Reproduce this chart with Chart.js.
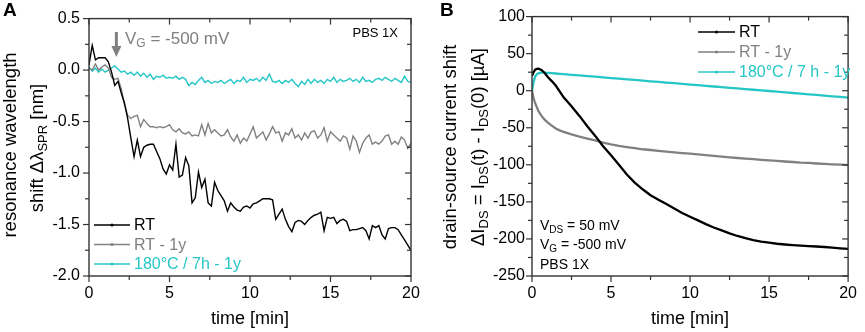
<!DOCTYPE html>
<html>
<head>
<meta charset="utf-8">
<script src="https://cdn.jsdelivr.net/npm/chart.js@4.4.0/dist/chart.umd.min.js"></script>
<style>
  html, body { margin: 0; padding: 0; background: #fff; }
  #wrap { position: relative; width: 865px; height: 332px; }
  canvas { position: absolute; top: 0; }
</style>
</head>
<body>
<div id="wrap">
  <canvas id="chartA" width="432" height="332" style="left:0"></canvas>
  <canvas id="chartB" width="433" height="332" style="left:432px"></canvas>
</div>
<script>
// ---- panel A: SPR resonance wavelength shift [nm] ----
const timeA = [
  0, 0.2, 0.4, 0.6, 0.8, 1, 1.2, 1.4, 1.6, 1.8,
  2, 2.2, 2.4, 2.6, 2.8, 3, 3.2, 3.4, 3.6, 3.8,
  4, 4.2, 4.4, 4.6, 4.8, 5, 5.2, 5.4, 5.6, 5.8,
  6, 6.2, 6.4, 6.6, 6.8, 7, 7.2, 7.4, 7.6, 7.8,
  8, 8.2, 8.4, 8.6, 8.8, 9, 9.2, 9.4, 9.6, 9.8,
  10, 10.2, 10.4, 10.6, 10.8, 11, 11.2, 11.4, 11.6, 11.8,
  12, 12.2, 12.4, 12.6, 12.8, 13, 13.2, 13.4, 13.6, 13.8,
  14, 14.2, 14.4, 14.6, 14.8, 15, 15.2, 15.4, 15.6, 15.8,
  16, 16.2, 16.4, 16.6, 16.8, 17, 17.2, 17.4, 17.6, 17.8,
  18, 18.2, 18.4, 18.6, 18.8, 19, 19.2, 19.4, 19.6, 19.8,
  20
];
const rtA = [
  0.05, 0.24, 0.10, 0.12, 0.12, 0.12, 0.08, -0.02, -0.15, -0.11,
  -0.22, -0.32, -0.47, -0.66, -0.84, -0.68, -0.84, -0.75, -0.73, -0.72,
  -0.72, -0.79, -0.86, -0.96, -1.01, -0.92, -0.97, -0.72, -1.04, -1.02,
  -0.85, -0.93, -1.29, -1.24, -0.99, -1.14, -1.06, -1.29, -1.32, -1.09,
  -1.17, -1.22, -1.27, -1.37, -1.29, -1.33, -1.36, -1.37, -1.33, -1.32,
  -1.34, -1.30, -1.29, -1.27, -1.25, -1.25, -1.25, -1.26, -1.45, -1.40,
  -1.35, -1.45, -1.52, -1.57, -1.48, -1.46, -1.47, -1.50, -1.46, -1.43,
  -1.41, -1.40, -1.38, -1.56, -1.43, -1.44, -1.43, -1.49, -1.46, -1.45,
  -1.47, -1.56, -1.55, -1.55, -1.54, -1.53, -1.56, -1.64, -1.51, -1.53,
  -1.51, -1.60, -1.64, -1.54, -1.53, -1.53, -1.55, -1.60, -1.65, -1.70,
  -1.75
];
const rtOldA = [
  0.02, 0.00, 0.06, 0.00, 0.03, 0.05, 0.02, -0.07, -0.09, -0.08,
  -0.18, -0.33, -0.44, -0.47, -0.45, -0.44, -0.55, -0.48, -0.52, -0.55,
  -0.55, -0.56, -0.55, -0.56, -0.55, -0.53, -0.58, -0.60, -0.57, -0.61,
  -0.62, -0.60, -0.64, -0.63, -0.64, -0.53, -0.63, -0.52, -0.61, -0.58,
  -0.61, -0.64, -0.63, -0.58, -0.65, -0.69, -0.63, -0.71, -0.66, -0.69,
  -0.62, -0.55, -0.66, -0.63, -0.60, -0.68, -0.62, -0.55, -0.61, -0.60,
  -0.69, -0.61, -0.63, -0.57, -0.66, -0.63, -0.68, -0.61, -0.66, -0.60,
  -0.59, -0.66, -0.63, -0.56, -0.69, -0.60, -0.63, -0.66, -0.69, -0.64,
  -0.66, -0.77, -0.64, -0.69, -0.80, -0.71, -0.66, -0.63, -0.72, -0.70,
  -0.72, -0.69, -0.64, -0.63, -0.72, -0.69, -0.72, -0.65, -0.68, -0.76,
  -0.71
];
const annealedA = [
  0.03, -0.01, 0.02, -0.02, 0.01, -0.02, 0.00, 0.02, 0.04, 0.01,
  -0.02, -0.01, -0.04, -0.02, -0.05, -0.02, -0.06, -0.03, -0.07, -0.04,
  -0.09, -0.06, -0.07, -0.05, -0.08, -0.07, -0.08, -0.06, -0.09, -0.07,
  -0.09, -0.15, -0.12, -0.14, -0.10, -0.07, -0.12, -0.10, -0.13, -0.11,
  -0.12, -0.10, -0.13, -0.11, -0.09, -0.13, -0.10, -0.11, -0.07, -0.12,
  -0.09, -0.10, -0.08, -0.11, -0.07, -0.10, -0.04, -0.11, -0.12, -0.10,
  -0.13, -0.10, -0.12, -0.09, -0.13, -0.16, -0.11, -0.14, -0.09, -0.13,
  -0.09, -0.12, -0.10, -0.13, -0.09, -0.11, -0.07, -0.12, -0.09, -0.11,
  -0.10, -0.08, -0.11, -0.09, -0.12, -0.07, -0.11, -0.10, -0.12, -0.09,
  -0.08, -0.10, -0.07, -0.09, -0.11, -0.08, -0.10, -0.12, -0.06, -0.11,
  -0.12
];

// ---- panel B: drain-source current shift [uA] ----
const timeB = [
  0, 0.1, 0.2, 0.3, 0.4, 0.6, 0.8, 1, 1.25, 1.5, 1.75,
  2, 2.5, 3, 3.5, 4, 4.5, 5, 5.5, 6, 6.5, 7, 7.5, 8, 8.5, 9, 9.5,
  10, 10.5, 11, 11.5, 12, 12.5, 13, 13.5, 14, 14.5, 15, 15.5, 16, 16.5,
  17, 17.5, 18, 18.5, 19, 19.5, 20
];
const rtB = [
  20, 25, 28.5, 29.5, 29.6, 28, 24, 18.5, 13, 7, -1,
  -9, -21, -34, -48, -61, -75, -87, -100, -113, -124, -133, -141, -147, -153, -159, -165,
  -170, -175, -180, -184.5, -188.5, -192.5, -196, -199, -201.5, -203.5, -205, -206.5, -207.5, -208.3,
  -209, -209.6, -210.2, -210.9, -211.7, -212.6, -213.5
];
const rtOldB = [
  0, -10, -17, -22, -27, -34, -39, -43, -47, -51, -53.5,
  -55.5, -59, -62, -64.5, -67, -70, -72.5, -74.5, -76, -77.5, -79, -80, -81.2, -82.3, -83.3, -84.2,
  -85, -86, -87, -88, -89, -90, -90.8, -91.6, -92.4, -93.2, -94, -94.8, -95.5, -96.2,
  -97, -97.5, -98.2, -98.8, -99.3, -99.8, -100.3
];
const annealedB = [
  0, 12, 19, 22, 23.5, 24.8, 24.5, 24.1, 23.7, 23.2, 22.8,
  22.4, 21.5, 20.6, 19.8, 18.9, 18, 17.1, 16.2, 15.4, 14.5, 13.6, 12.7, 11.8, 11, 10.1, 9.2,
  8.3, 7.5, 6.6, 5.7, 4.8, 3.9, 3.1, 2.2, 1.3, 0.4, -0.4, -1.3, -2.2, -3.1,
  -4, -4.8, -5.7, -6.6, -7.5, -8.3, -9.2
];

const BLACK = '#000000';
const GREY = '#808080';
const CYAN = '#26c6c6';
const FONT = '"Liberation Sans", Arial, sans-serif';

function pts(times, values) {
  return times.map((t, i) => ({ x: t, y: values[i] }));
}

function partsWidth(ctx, parts, size) {
  const sub = Math.round(size * 0.68);
  return parts.map(([t, s]) => {
    ctx.font = `${s ? sub : size}px ${FONT}`;
    return ctx.measureText(t).width;
  });
}

// text with subscripts: parts = [[text, isSub], ...]
function richText(ctx, parts, x, y, size, align) {
  const sub = Math.round(size * 0.68);
  const widths = partsWidth(ctx, parts, size);
  const total = widths.reduce((s, w) => s + w, 0);
  let cx = align === 'center' ? x - total / 2 : align === 'right' ? x - total : x;
  ctx.textAlign = 'left';
  ctx.textBaseline = 'middle';
  parts.forEach(([t, s], i) => {
    ctx.font = `${s ? sub : size}px ${FONT}`;
    ctx.fillText(t, cx, s ? y + size * 0.3 : y);
    cx += widths[i];
  });
}

// box frame with outward ticks (left/bottom) and inward mirror ticks (top/right)
const frameTicks = {
  id: 'frameTicks',
  afterDatasetsDraw(chart, args, opts) {
    const { ctx, chartArea: a, scales: { x, y } } = chart;
    ctx.save();
    ctx.strokeStyle = '#333';
    ctx.lineWidth = 1.4;
    ctx.strokeRect(a.left, a.top, a.right - a.left, a.bottom - a.top);
    ctx.lineWidth = 1.2;
    const line = (x1, y1, x2, y2) => {
      ctx.beginPath(); ctx.moveTo(x1, y1); ctx.lineTo(x2, y2); ctx.stroke();
    };
    const half = opts.xStep / 2;
    for (let i = 0, v = x.min; v <= x.max + 1e-9; i++, v = x.min + i * half) {
      const px = x.getPixelForValue(v);
      const len = i % 2 === 0 ? 6 : 4;
      line(px, a.bottom, px, a.bottom + len);
      line(px, a.top, px, a.top + len);
    }
    const halfY = opts.yStep / 2;
    for (let i = 0, v = y.min; v <= y.max + 1e-9; i++, v = y.min + i * halfY) {
      const py = y.getPixelForValue(v);
      const len = i % 2 === 0 ? 6 : 4;
      line(a.left - len, py, a.left, py);
      line(a.right - len, py, a.right, py);
    }
    ctx.restore();
  }
};

// titles, legend and notes
const notes = {
  id: 'notes',
  afterDraw(chart, args, opts) {
    const { ctx, chartArea: a } = chart;
    ctx.save();
    // panel letter
    ctx.fillStyle = '#000';
    ctx.font = `bold 19px ${FONT}`;
    ctx.textAlign = 'left';
    ctx.textBaseline = 'middle';
    ctx.fillText(opts.letter, opts.letterX, 11);
    // x title
    ctx.font = `18px ${FONT}`;
    ctx.textAlign = 'center';
    ctx.fillText('time [min]', (a.left + a.right) / 2, 319);
    // rotated y title, each line fitted to its length in the reference
    opts.yTitle.forEach((ln) => {
      const w = partsWidth(ctx, ln.parts, 18).reduce((s, v) => s + v, 0);
      const size = Math.min(18.5, 18 * ln.len / w);
      ctx.save();
      ctx.translate(ln.x, ln.cy);
      ctx.rotate(-Math.PI / 2);
      richText(ctx, ln.parts, 0, 0, size, 'center');
      ctx.restore();
    });
    // legend
    const L = opts.legend;
    chart.data.datasets.forEach((ds, i) => {
      const ly = L.y + i * L.gap;
      ctx.strokeStyle = ds.borderColor;
      ctx.lineWidth = 1.6;
      ctx.beginPath(); ctx.moveTo(L.x0, ly); ctx.lineTo(L.x1, ly); ctx.stroke();
      ctx.fillStyle = ds.borderColor;
      ctx.beginPath(); ctx.arc((L.x0 + L.x1) / 2, ly, 1.5, 0, Math.PI * 2); ctx.fill();
      ctx.font = `16px ${FONT}`;
      ctx.textAlign = 'left';
      ctx.textBaseline = 'middle';
      ctx.fillText(ds.label, L.x1 + 4, ly + 1);
    });
    // free notes
    opts.texts.forEach(tx => {
      ctx.fillStyle = tx.color;
      richText(ctx, tx.parts, tx.x, tx.y, tx.size, tx.align || 'left');
    });
    if (opts.arrow) {
      const ax = chart.scales.x.getPixelForValue(opts.arrow.t);
      ctx.strokeStyle = GREY;
      ctx.fillStyle = GREY;
      ctx.lineWidth = 3;
      ctx.beginPath(); ctx.moveTo(ax, 32); ctx.lineTo(ax, 47); ctx.stroke();
      ctx.beginPath(); ctx.moveTo(ax - 5, 46); ctx.lineTo(ax + 5, 46); ctx.lineTo(ax, 57); ctx.closePath(); ctx.fill();
    }
    ctx.restore();
  }
};

function makeChart(id, cfg) {
  return new Chart(document.getElementById(id), {
    type: 'line',
    data: { datasets: cfg.datasets },
    options: {
      responsive: false,
      animation: false,
      events: [],
      layout: { padding: { top: 16, right: cfg.padRight, left: 0, bottom: 0 } },
      elements: { point: { radius: 0 }, line: { tension: 0 } },
      scales: {
        x: {
          type: 'linear', min: 0, max: 20,
          grid: { display: false, drawTicks: false }, border: { display: false },
          ticks: { stepSize: 5, padding: 8, color: '#000', font: { family: FONT, size: 16 } },
          afterFit: s => { s.height = 56; }
        },
        y: {
          type: 'linear', min: cfg.yMin, max: cfg.yMax,
          grid: { display: false, drawTicks: false }, border: { display: false },
          ticks: {
            stepSize: cfg.yStep, padding: cfg.yPad, color: '#000', font: { family: FONT, size: 16 },
            callback: cfg.yFormat
          },
          afterFit: s => { s.width = cfg.yWidth; }
        }
      },
      plugins: {
        legend: { display: false },
        tooltip: { enabled: false },
        frameTicks: { xStep: 5, yStep: cfg.yStep },
        notes: cfg.notes
      }
    },
    plugins: [frameTicks, notes]
  });
}

makeChart('chartA', {
  yMin: -2, yMax: 0.5, yStep: 0.5, yWidth: 89, yPad: 9, padRight: 21,
  yFormat: v => v.toFixed(1),
  datasets: [
    { label: 'RT', data: pts(timeA, rtA), borderColor: BLACK, borderWidth: 1.4 },
    { label: 'RT - 1y', data: pts(timeA, rtOldA), borderColor: GREY, borderWidth: 1.4 },
    { label: '180°C / 7h - 1y', data: pts(timeA, annealedA), borderColor: CYAN, borderWidth: 1.4 }
  ],
  notes: {
    letter: 'A', letterX: 3,
    yTitle: [
      { x: 11, cy: 145, len: 190, parts: [['resonance wavelength', false]] },
      { x: 38, cy: 148, len: 127, parts: [['shift \u0394\u03bb', false], ['SPR', true], [' [nm]', false]] }
    ],
    legend: { x0: 94, x1: 130, y: 225, gap: 19.5 },
    texts: [
      { parts: [['PBS 1X', false]], x: 398, y: 33, size: 13, color: '#000', align: 'right' },
      { parts: [['V', false], ['G', true], [' = -500 mV', false]], x: 125, y: 39, size: 17, color: GREY }
    ],
    arrow: { t: 1.7 }
  }
});

makeChart('chartB', {
  yMin: -250, yMax: 100, yStep: 50, yWidth: 100, yPad: 7, padRight: 10,
  yFormat: v => String(v),
  datasets: [
    { label: 'RT', data: pts(timeB, rtB), borderColor: BLACK, borderWidth: 2.3 },
    { label: 'RT - 1y', data: pts(timeB, rtOldB), borderColor: GREY, borderWidth: 2.3 },
    { label: '180°C / 7 h - 1y', data: pts(timeB, annealedB), borderColor: CYAN, borderWidth: 2.3 }
  ],
  notes: {
    letter: 'B', letterX: 8,
    yTitle: [
      { x: 19, cy: 147, len: 210, parts: [['drain-source current shift', false]] },
      { x: 47, cy: 147, len: 211, parts: [['\u0394I', false], ['DS', true], [' = I', false], ['DS', true], ['(t) - I', false], ['DS', true], ['(0) [\u00b5A]', false]] }
    ],
    legend: { x0: 266, x1: 303, y: 32, gap: 20 },
    texts: [
      { parts: [['V', false], ['DS', true], [' = 50 mV', false]], x: 108, y: 226, size: 14, color: '#000' },
      { parts: [['V', false], ['G', true], [' = -500 mV', false]], x: 108, y: 245, size: 14, color: '#000' },
      { parts: [['PBS 1X', false]], x: 108, y: 265, size: 14, color: '#000' }
    ]
  }
});
</script>
</body>
</html>
